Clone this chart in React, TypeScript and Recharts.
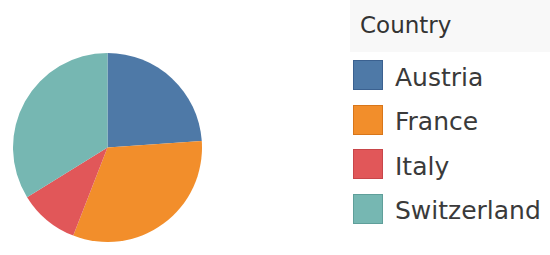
import { PieChart, Pie, Cell, Legend } from 'recharts';

const countries = ['Austria', 'France', 'Italy', 'Switzerland'];
const shares = [23.9, 32.0, 10.3, 33.8];
const colors = ['#4e79a7', '#f28e2b', '#e15759', '#76b7b2'];
const borders = ['#3b6190', '#d8761a', '#c8464a', '#5f9f9a'];

const data = countries.map((name, i) => ({ name, value: shares[i] }));

const font = '"DejaVu Sans", Verdana, sans-serif';

function CountryLegend() {
  return (
    <div style={{ width: 200, fontFamily: font }}>
      <div
        style={{
          width: 200,
          height: 52,
          background: '#f8f8f8',
          color: '#333',
          fontSize: 23,
          lineHeight: '50px',
          paddingLeft: 10,
          boxSizing: 'border-box',
        }}
      >
        Country
      </div>
      {countries.map((c, i) => (
        <div
          key={c}
          style={{ display: 'flex', alignItems: 'center', height: 44.5, marginTop: i === 0 ? 1 : 0 }}
        >
          <div
            style={{
              width: 28,
              height: 28,
              marginLeft: 3,
              background: colors[i],
              border: `1px solid ${borders[i]}`,
            }}
          />
          <span style={{ marginLeft: 12, fontSize: 25, color: '#3a3a3a', position: 'relative', top: 2 }}>{c}</span>
        </div>
      ))}
    </div>
  );
}

export default function App() {
  return (
    <div style={{ width: 550, height: 255, background: '#fff' }}>
      <style>{'body { margin: 0; overflow: hidden; }'}</style>
      <PieChart width={550} height={255} margin={{ top: 0, right: 0, bottom: 0, left: 0 }}>
        <Pie
          data={data}
          dataKey="value"
          nameKey="name"
          cx={107.5}
          cy={147.5}
          outerRadius={94.5}
          startAngle={90}
          endAngle={-270}
          stroke="none"
          isAnimationActive={false}
        >
          {data.map((d, i) => (
            <Cell key={d.name} fill={colors[i]} />
          ))}
        </Pie>
        <Legend
          width={200}
          content={() => <CountryLegend />}
          wrapperStyle={{ position: 'absolute', top: 0, left: 350, width: 200 }}
        />
      </PieChart>
    </div>
  );
}
